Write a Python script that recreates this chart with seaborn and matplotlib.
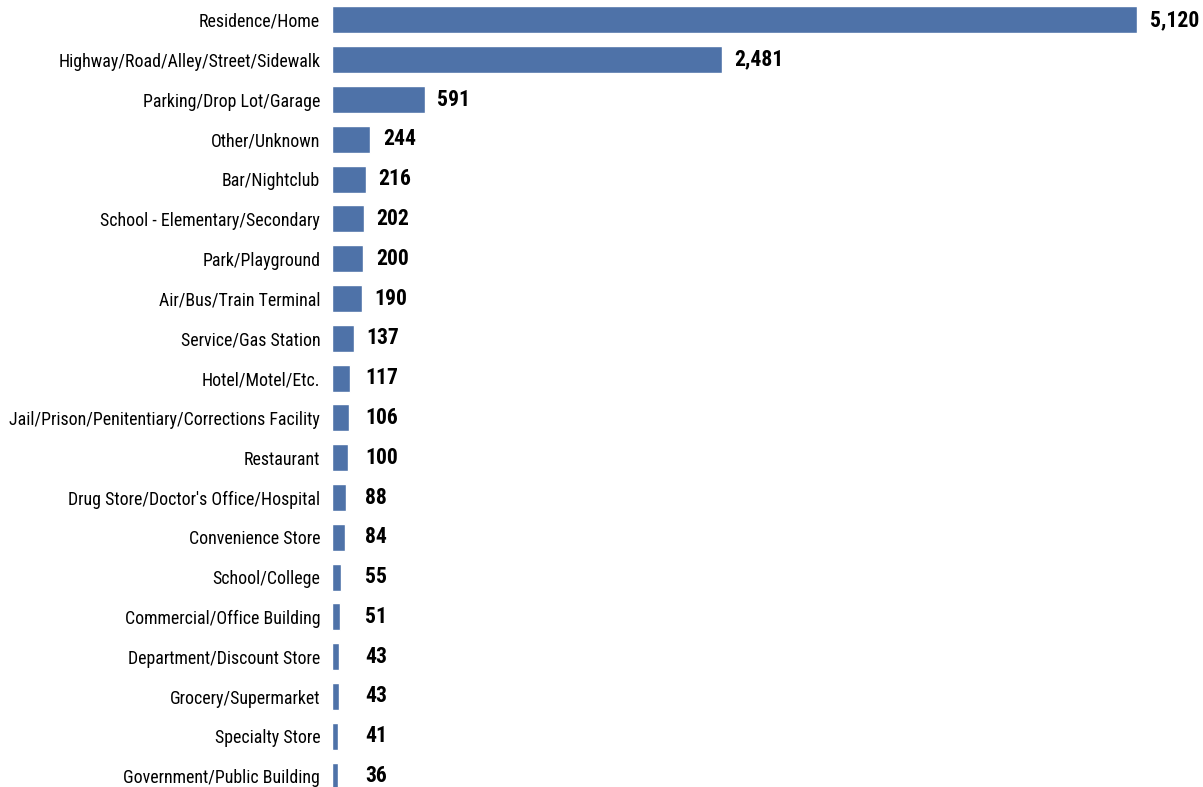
import matplotlib
matplotlib.use("Agg")
import matplotlib.pyplot as plt
import seaborn as sns
import pandas as pd
from matplotlib import font_manager
from matplotlib.textpath import TextPath
from matplotlib.font_manager import FontProperties

# ======================
# Données
# ======================
locations = [
    "Residence/Home",
    "Highway/Road/Alley/Street/Sidewalk",
    "Parking/Drop Lot/Garage",
    "Other/Unknown",
    "Bar/Nightclub",
    "School - Elementary/Secondary",
    "Park/Playground",
    "Air/Bus/Train Terminal",
    "Service/Gas Station",
    "Hotel/Motel/Etc.",
    "Jail/Prison/Penitentiary/Corrections Facility",
    "Restaurant",
    "Drug Store/Doctor's Office/Hospital",
    "Convenience Store",
    "School/College",
    "Commercial/Office Building",
    "Department/Discount Store",
    "Grocery/Supermarket",
    "Specialty Store",
    "Government/Public Building",
]
counts = [5120, 2481, 591, 244, 216, 202, 200, 190, 137, 117,
          106, 100, 88, 84, 55, 51, 43, 43, 41, 36]

df = pd.DataFrame({"location": locations, "count": counts})

# police étroite si disponible
names = {f.name for f in font_manager.fontManager.ttflist}
family = "DejaVu Sans"
for cand in ["Roboto Condensed", "Liberation Sans Narrow", "Arial Narrow",
             "Open Sans Condensed", "Roboto", "Inter"]:
    if cand in names:
        family = cand
        break


def fit_size(text, target_px, weight="normal"):
    # taille (pt) pour que le texte fasse target_px de large à 100 dpi
    fp = FontProperties(family=family, weight=weight, size=10)
    w = TextPath((0, 0), text, prop=fp).get_extents().width  # en pt
    return 10 * target_px / (w * 100 / 72)


label_size = fit_size("Jail/Prison/Penitentiary/Corrections Facility", 311)
value_size = fit_size("5,120", 47, weight="bold")

sns.set_style("white")
plt.rcParams["font.family"] = [family, "DejaVu Sans"]

fig = plt.figure(figsize=(12.03, 7.87), dpi=100)
ax = fig.add_axes([332 / 1203, -9 / 787, 805 / 1203, 796 / 787])

sns.barplot(data=df, x="count", y="location", orient="h", color="#4E72A8",
            saturation=1, width=0.68, ax=ax)

ax.set_xlim(0, 5120)
ax.set_ylim(len(locations) - 0.5, -0.5)
ax.set_xlabel("")
ax.set_ylabel("")
ax.set_xticks([])
ax.tick_params(axis="y", length=0, pad=8.5, labelsize=label_size,
               labelcolor="#000000")
for s in ax.spines.values():
    s.set_visible(False)

for i, v in enumerate(counts):
    ax.text(max(v + 80, 210), i, f"{v:,}", va="center", ha="left",
            fontsize=value_size, fontweight="bold", color="#000000",
            clip_on=False)

fig.savefig("out.png", dpi=100)
